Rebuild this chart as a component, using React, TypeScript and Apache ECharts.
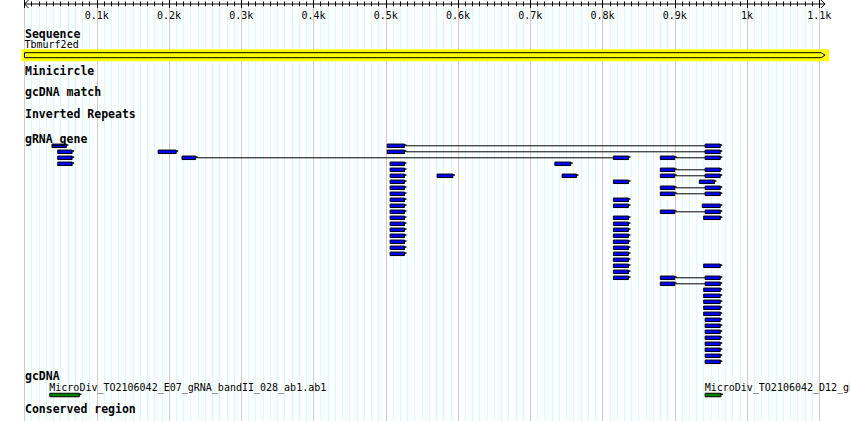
import React, { useEffect, useRef } from 'react';
import * as echarts from 'echarts';

// ---- data ----
const SEQ_NAME = 'Tbmurf2ed';
const SEQ_LEN = 1108;
const AXIS_MAX = 1100;
const AXIS_STEP = 100;

const trackTitles = [
  'Sequence',
  'Minicircle',
  'gcDNA match',
  'Inverted Repeats',
  'gRNA_gene',
  'gcDNA',
  'Conserved region',
];

// gRNA genes: [start, end, rows]
const grnaBlocks: [number, number, number[]][] = [
  [38, 60, [0]],
  [46, 68, [1, 2, 3]],
  [185, 212, [1]],
  [218, 239, [2]],
  [502, 528, [0, 1]],
  [506, 528, [3, 4, 5, 6, 7, 8, 9, 10, 11, 12, 13, 14, 15, 16, 17, 18]],
  [571, 595, [5]],
  [734, 758, [3]],
  [744, 766, [5]],
  [815, 838, [2, 6, 9, 10, 12, 13, 14, 15, 16, 17, 18, 19, 20, 21, 22]],
  [880, 902, [2, 4, 5, 7, 8, 11, 22, 23]],
  [942, 965, [0, 1, 2, 4, 5, 7, 8, 11, 22, 23, 29, 30, 31, 32, 33, 34, 35, 36]],
  [934, 957, [6]],
  [938, 965, [10]],
  [940, 965, [12, 20, 24, 25, 26, 27, 28]],
];

// joins between parts of one gRNA: [row, from, to]
const grnaLinks: [number, number, number][] = [
  [0, 528, 942],
  [1, 528, 942],
  [2, 239, 815],
  [2, 902, 942],
  [4, 902, 942],
  [5, 902, 942],
  [7, 902, 942],
  [8, 902, 942],
  [11, 902, 942],
  [22, 902, 942],
  [23, 902, 942],
];

const gcdnaNames = [
  'MicroDiv_TO2106042_E07_gRNA_bandII_028_ab1.ab1',
  'MicroDiv_TO2106042_D12_gRNA_bandII_027_ab1.ab1',
];
const gcdnaStarts = [35, 942];
const gcdnaEnds = [78, 966];

// ---- layout ----
const W = 850;
const H = 421;
const GRID_TOP = 8;
const AXIS_OFFSET = 4;
const titleYs = [33.5, 70.5, 92, 114, 138.5, 375.5, 409];
const SEQ_LABEL_Y = 44.5;
const SEQ_Y = 55.2;
const GRNA_Y0 = 145.8;
const ROW_H = 6;
const GCDNA_LABEL_Y = 387;
const GCDNA_Y = 395;
const FONT = '"DejaVu Sans Mono", monospace';

const tickLabel = (v: number) => (v === 0 ? '' : `${+(v / 1000).toFixed(2)}k`);

const glyph = (x1: number, x2: number, y: number, fill: string) => [
  {
    type: 'rect',
    shape: { x: x1, y: y - 1.75, width: Math.max(x2 - x1 - 1.5, 1), height: 3.5 },
    style: { fill, stroke: '#000', lineWidth: 1 },
  },
  {
    type: 'rect',
    shape: { x: x2 - 1.5, y: y - 1.5, width: 2, height: 1.5 },
    style: { fill: '#000' },
  },
];

export default function App() {
  const ref = useRef<HTMLDivElement>(null);

  useEffect(() => {
    document.body.style.margin = '0';
    if (!ref.current) return;
    const chart = echarts.init(ref.current, null, { renderer: 'svg' });

    const grnaData: number[][] = [];
    grnaBlocks.forEach(([s, e, rows]) => rows.forEach((r) => grnaData.push([s, e, r])));
    const linkData = grnaLinks.map(([r, a, b]) => [a, b, r]);
    const gcdnaData = gcdnaStarts.map((s, i) => [s, gcdnaEnds[i]]);

    const baseAxis = {
      type: 'value',
      position: 'top',
      offset: AXIS_OFFSET,
      min: 0,
      max: AXIS_MAX,
      interval: AXIS_STEP,
      axisLine: { show: false },
    };

    const option: any = {
      animation: false,
      textStyle: { fontFamily: FONT },
      grid: { left: 24.5, right: W - 819.3, top: GRID_TOP, bottom: 0 },
      xAxis: [
        {
          ...baseAxis,
          axisTick: { show: true, inside: false, length: 4, lineStyle: { color: '#000' } },
          minorTick: { show: true, splitNumber: 10, length: 2.6, lineStyle: { color: '#000' } },
          axisLabel: {
            show: true,
            inside: true,
            margin: 6,
            formatter: tickLabel,
            color: '#000',
            fontSize: 10,
            fontFamily: FONT,
          },
          splitLine: { show: true, lineStyle: { color: '#cccccc', width: 1 } },
          minorSplitLine: { show: true, lineStyle: { color: '#d4ffff', width: 1 } },
        },
        {
          ...baseAxis,
          axisTick: { show: true, inside: true, length: 4, lineStyle: { color: '#000' } },
          minorTick: { show: true, splitNumber: 10, length: 2.4, lineStyle: { color: '#000' } },
          axisLabel: { show: false },
          splitLine: { show: false },
        },
      ],
      yAxis: { type: 'value', min: GRID_TOP, max: H, inverse: true, show: false },
      graphic: {
        elements: trackTitles.map((t, i) => ({
          type: 'text',
          x: 25,
          y: titleYs[i],
          z: 100,
          style: {
            text: t,
            fill: '#000',
            font: `bold 11.5px ${FONT}`,
            verticalAlign: 'middle',
            textVerticalAlign: 'middle',
          },
        })),
      },
      series: [
        {
          // ruler line with open arrow heads
          type: 'custom',
          clip: false,
          silent: true,
          data: [[0, SEQ_LEN]],
          renderItem: (_p: any, api: any) => {
            const a = api.coord([api.value(0), GRID_TOP]);
            const b = api.coord([api.value(1), GRID_TOP]);
            const y = a[1] - AXIS_OFFSET;
            const st = { stroke: '#000', lineWidth: 1, fill: 'none' };
            return {
              type: 'group',
              children: [
                { type: 'line', shape: { x1: a[0], y1: y, x2: b[0], y2: y }, style: st },
                { type: 'polyline', shape: { points: [[a[0] + 4, y - 4], [a[0], y], [a[0] + 4, y + 4]] }, style: st },
                { type: 'polyline', shape: { points: [[b[0] - 4, y - 4], [b[0], y], [b[0] - 4, y + 4]] }, style: st },
              ],
            };
          },
        },
        {
          // sequence
          type: 'custom',
          clip: false,
          silent: true,
          data: [[0, SEQ_LEN]],
          renderItem: (_p: any, api: any) => {
            const a = api.coord([api.value(0), SEQ_Y])[0];
            const b = api.coord([api.value(1), SEQ_Y])[0];
            const y = api.coord([0, SEQ_Y])[1];
            return {
              type: 'group',
              children: [
                { type: 'rect', shape: { x: a - 3, y: y - 6, width: b - a + 7, height: 12 }, style: { fill: '#ffff00' } },
                {
                  type: 'polygon',
                  shape: { points: [[a, y - 2.5], [b - 4, y - 2.5], [b, y], [b - 4, y + 2.5], [a, y + 2.5]] },
                  style: { fill: '#ffff00', stroke: '#000', lineWidth: 1 },
                },
                {
                  type: 'text',
                  x: a,
                  y: SEQ_LABEL_Y,
                  style: {
                    text: SEQ_NAME,
                    fill: '#000',
                    font: `10px ${FONT}`,
                    verticalAlign: 'middle',
                    textVerticalAlign: 'middle',
                  },
                },
              ],
            };
          },
        },
        {
          // links between gRNA parts
          type: 'custom',
          clip: false,
          silent: true,
          data: linkData,
          renderItem: (_p: any, api: any) => {
            const yv = GRNA_Y0 + api.value(2) * ROW_H;
            const a = api.coord([api.value(0), yv]);
            const b = api.coord([api.value(1), yv]);
            return {
              type: 'line',
              shape: { x1: a[0], y1: a[1], x2: b[0], y2: b[1] },
              style: { stroke: '#000', lineWidth: 1 },
            };
          },
        },
        {
          // gRNA genes
          type: 'custom',
          clip: false,
          silent: true,
          data: grnaData,
          renderItem: (_p: any, api: any) => {
            const yv = GRNA_Y0 + api.value(2) * ROW_H;
            const a = api.coord([api.value(0), yv]);
            const b = api.coord([api.value(1), yv]);
            return { type: 'group', children: glyph(a[0], b[0], a[1], '#0000ff') };
          },
        },
        {
          // gcDNA
          type: 'custom',
          clip: false,
          silent: true,
          data: gcdnaData,
          renderItem: (p: any, api: any) => {
            const a = api.coord([api.value(0), GCDNA_Y]);
            const b = api.coord([api.value(1), GCDNA_Y]);
            return {
              type: 'group',
              children: [
                ...glyph(a[0], b[0], a[1], '#008000'),
                {
                  type: 'text',
                  x: a[0] - 0.5,
                  y: GCDNA_LABEL_Y,
                  style: {
                    text: gcdnaNames[p.dataIndex],
                    fill: '#000',
                    font: `10px ${FONT}`,
                    verticalAlign: 'middle',
                    textVerticalAlign: 'middle',
                  },
                },
              ],
            };
          },
        },
      ],
    };

    chart.setOption(option);
    return () => chart.dispose();
  }, []);

  return <div ref={ref} style={{ width: W, height: H }} />;
}
